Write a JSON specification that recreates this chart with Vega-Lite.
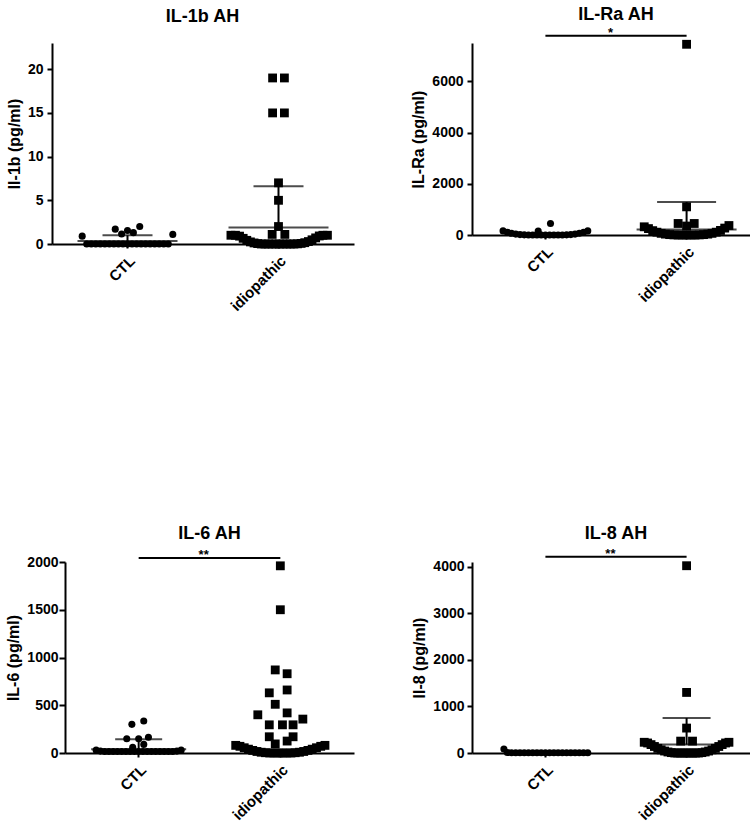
{
  "$schema": "https://vega.github.io/schema/vega-lite/v6.json",
  "background": "white",
  "padding": {"left": 5, "top": 5, "right": 5, "bottom": 1},
  "config": {
    "font": "Liberation Sans",
    "view": {"stroke": null},
    "axis": {"domainColor": "black", "domainWidth": 2, "tickColor": "black", "tickWidth": 2, "tickSize": 5, "labelColor": "black", "labelFont": "Liberation Sans", "labelFontWeight": "bold", "labelFontSize": 14, "titleFont": "Liberation Sans", "titleFontWeight": "bold", "titleFontSize": 16, "titleColor": "black", "grid": false, "labelPadding": 4, "titlePadding": 5},
    "axisX": {"labelAngle": -45, "labelPadding": 5, "tickSize": 4, "labelFontSize": 15},
    "axisY": {"format": "d"},
    "title": {"fontSize": 18, "fontWeight": "bold", "color": "black", "font": "Liberation Sans", "anchor": "middle", "frame": "group"}
  },
  "datasets": {
    "pts": [
      {"p": "p1", "g": "CTL", "j": -1.0, "v": 0.9},
      {"p": "p1", "g": "CTL", "j": -0.27, "v": 1.7},
      {"p": "p1", "g": "CTL", "j": -0.13, "v": 1.15},
      {"p": "p1", "g": "CTL", "j": 0.0, "v": 1.55},
      {"p": "p1", "g": "CTL", "j": 0.13, "v": 1.3},
      {"p": "p1", "g": "CTL", "j": 0.27, "v": 2.0},
      {"p": "p1", "g": "CTL", "j": 1.0, "v": 1.1},
      {"p": "p1", "g": "CTL", "j": -0.9, "v": 0},
      {"p": "p1", "g": "CTL", "j": -0.8, "v": 0},
      {"p": "p1", "g": "CTL", "j": -0.7, "v": 0},
      {"p": "p1", "g": "CTL", "j": -0.6, "v": 0},
      {"p": "p1", "g": "CTL", "j": -0.5, "v": 0},
      {"p": "p1", "g": "CTL", "j": -0.4, "v": 0},
      {"p": "p1", "g": "CTL", "j": -0.3, "v": 0},
      {"p": "p1", "g": "CTL", "j": -0.2, "v": 0},
      {"p": "p1", "g": "CTL", "j": -0.1, "v": 0},
      {"p": "p1", "g": "CTL", "j": 0.0, "v": 0},
      {"p": "p1", "g": "CTL", "j": 0.1, "v": 0},
      {"p": "p1", "g": "CTL", "j": 0.2, "v": 0},
      {"p": "p1", "g": "CTL", "j": 0.3, "v": 0},
      {"p": "p1", "g": "CTL", "j": 0.4, "v": 0},
      {"p": "p1", "g": "CTL", "j": 0.5, "v": 0},
      {"p": "p1", "g": "CTL", "j": 0.6, "v": 0},
      {"p": "p1", "g": "CTL", "j": 0.7, "v": 0},
      {"p": "p1", "g": "CTL", "j": 0.8, "v": 0},
      {"p": "p1", "g": "CTL", "j": 0.9, "v": 0},
      {"p": "p1", "g": "idiopathic", "j": -0.13, "v": 19},
      {"p": "p1", "g": "idiopathic", "j": 0.13, "v": 19},
      {"p": "p1", "g": "idiopathic", "j": -0.13, "v": 15},
      {"p": "p1", "g": "idiopathic", "j": 0.13, "v": 15},
      {"p": "p1", "g": "idiopathic", "j": 0.0, "v": 7.0},
      {"p": "p1", "g": "idiopathic", "j": 0.0, "v": 5.0},
      {"p": "p1", "g": "idiopathic", "j": 0.0, "v": 2.0},
      {"p": "p1", "g": "idiopathic", "j": -0.14, "v": 1.1},
      {"p": "p1", "g": "idiopathic", "j": 0.14, "v": 1.1},
      {"p": "p1", "g": "idiopathic", "j": -1.05, "v": 1.0},
      {"p": "p1", "g": "idiopathic", "j": -0.95, "v": 1.0},
      {"p": "p1", "g": "idiopathic", "j": -0.86, "v": 0.9},
      {"p": "p1", "g": "idiopathic", "j": -0.78, "v": 0.65},
      {"p": "p1", "g": "idiopathic", "j": -0.7, "v": 0.42},
      {"p": "p1", "g": "idiopathic", "j": -0.62, "v": 0.24},
      {"p": "p1", "g": "idiopathic", "j": -0.54, "v": 0.12},
      {"p": "p1", "g": "idiopathic", "j": -0.46, "v": 0.05},
      {"p": "p1", "g": "idiopathic", "j": -0.38, "v": 0},
      {"p": "p1", "g": "idiopathic", "j": -0.3, "v": 0},
      {"p": "p1", "g": "idiopathic", "j": -0.22, "v": 0},
      {"p": "p1", "g": "idiopathic", "j": -0.14, "v": 0},
      {"p": "p1", "g": "idiopathic", "j": -0.06, "v": 0},
      {"p": "p1", "g": "idiopathic", "j": 0.02, "v": 0},
      {"p": "p1", "g": "idiopathic", "j": 0.1, "v": 0},
      {"p": "p1", "g": "idiopathic", "j": 0.18, "v": 0},
      {"p": "p1", "g": "idiopathic", "j": 0.26, "v": 0},
      {"p": "p1", "g": "idiopathic", "j": 0.34, "v": 0},
      {"p": "p1", "g": "idiopathic", "j": 0.42, "v": 0.02},
      {"p": "p1", "g": "idiopathic", "j": 0.5, "v": 0.07},
      {"p": "p1", "g": "idiopathic", "j": 0.58, "v": 0.15},
      {"p": "p1", "g": "idiopathic", "j": 0.66, "v": 0.28},
      {"p": "p1", "g": "idiopathic", "j": 0.74, "v": 0.48},
      {"p": "p1", "g": "idiopathic", "j": 0.82, "v": 0.7},
      {"p": "p1", "g": "idiopathic", "j": 0.9, "v": 0.92},
      {"p": "p1", "g": "idiopathic", "j": 0.98, "v": 1.0},
      {"p": "p1", "g": "idiopathic", "j": 1.08, "v": 1.0},

      {"p": "p2", "g": "CTL", "j": 0.12, "v": 450},
      {"p": "p2", "g": "CTL", "j": -0.17, "v": 150},
      {"p": "p2", "g": "CTL", "j": -1.0, "v": 160},
      {"p": "p2", "g": "CTL", "j": -0.9, "v": 110},
      {"p": "p2", "g": "CTL", "j": -0.8, "v": 65},
      {"p": "p2", "g": "CTL", "j": -0.7, "v": 35},
      {"p": "p2", "g": "CTL", "j": -0.6, "v": 15},
      {"p": "p2", "g": "CTL", "j": -0.5, "v": 5},
      {"p": "p2", "g": "CTL", "j": -0.4, "v": 0},
      {"p": "p2", "g": "CTL", "j": -0.3, "v": 0},
      {"p": "p2", "g": "CTL", "j": -0.2, "v": 0},
      {"p": "p2", "g": "CTL", "j": -0.1, "v": 0},
      {"p": "p2", "g": "CTL", "j": 0.0, "v": 0},
      {"p": "p2", "g": "CTL", "j": 0.1, "v": 0},
      {"p": "p2", "g": "CTL", "j": 0.2, "v": 0},
      {"p": "p2", "g": "CTL", "j": 0.3, "v": 0},
      {"p": "p2", "g": "CTL", "j": 0.4, "v": 0},
      {"p": "p2", "g": "CTL", "j": 0.5, "v": 5},
      {"p": "p2", "g": "CTL", "j": 0.6, "v": 15},
      {"p": "p2", "g": "CTL", "j": 0.7, "v": 35},
      {"p": "p2", "g": "CTL", "j": 0.8, "v": 65},
      {"p": "p2", "g": "CTL", "j": 0.9, "v": 110},
      {"p": "p2", "g": "CTL", "j": 1.0, "v": 160},
      {"p": "p2", "g": "idiopathic", "j": 0.0, "v": 7450},
      {"p": "p2", "g": "idiopathic", "j": 0.0, "v": 1100},
      {"p": "p2", "g": "idiopathic", "j": -0.2, "v": 450},
      {"p": "p2", "g": "idiopathic", "j": 0.18, "v": 450},
      {"p": "p2", "g": "idiopathic", "j": 0.0, "v": 350},
      {"p": "p2", "g": "idiopathic", "j": -1.0, "v": 320},
      {"p": "p2", "g": "idiopathic", "j": -0.9, "v": 250},
      {"p": "p2", "g": "idiopathic", "j": -0.8, "v": 170},
      {"p": "p2", "g": "idiopathic", "j": -0.7, "v": 110},
      {"p": "p2", "g": "idiopathic", "j": -0.6, "v": 65},
      {"p": "p2", "g": "idiopathic", "j": -0.5, "v": 35},
      {"p": "p2", "g": "idiopathic", "j": -0.4, "v": 15},
      {"p": "p2", "g": "idiopathic", "j": -0.3, "v": 5},
      {"p": "p2", "g": "idiopathic", "j": -0.2, "v": 0},
      {"p": "p2", "g": "idiopathic", "j": -0.1, "v": 0},
      {"p": "p2", "g": "idiopathic", "j": 0.0, "v": 0},
      {"p": "p2", "g": "idiopathic", "j": 0.1, "v": 0},
      {"p": "p2", "g": "idiopathic", "j": 0.2, "v": 0},
      {"p": "p2", "g": "idiopathic", "j": 0.3, "v": 5},
      {"p": "p2", "g": "idiopathic", "j": 0.4, "v": 15},
      {"p": "p2", "g": "idiopathic", "j": 0.5, "v": 35},
      {"p": "p2", "g": "idiopathic", "j": 0.6, "v": 65},
      {"p": "p2", "g": "idiopathic", "j": 0.7, "v": 110},
      {"p": "p2", "g": "idiopathic", "j": 0.8, "v": 180},
      {"p": "p2", "g": "idiopathic", "j": 0.9, "v": 270},
      {"p": "p2", "g": "idiopathic", "j": 1.0, "v": 370},

      {"p": "p3", "g": "CTL", "j": -0.16, "v": 300},
      {"p": "p3", "g": "CTL", "j": 0.12, "v": 335},
      {"p": "p3", "g": "CTL", "j": -0.28, "v": 150},
      {"p": "p3", "g": "CTL", "j": 0.0, "v": 150},
      {"p": "p3", "g": "CTL", "j": 0.23, "v": 165},
      {"p": "p3", "g": "CTL", "j": -0.14, "v": 60},
      {"p": "p3", "g": "CTL", "j": 0.12, "v": 90},
      {"p": "p3", "g": "CTL", "j": -1.0, "v": 30},
      {"p": "p3", "g": "CTL", "j": -0.9, "v": 20},
      {"p": "p3", "g": "CTL", "j": -0.8, "v": 15},
      {"p": "p3", "g": "CTL", "j": -0.7, "v": 15},
      {"p": "p3", "g": "CTL", "j": -0.6, "v": 15},
      {"p": "p3", "g": "CTL", "j": -0.5, "v": 15},
      {"p": "p3", "g": "CTL", "j": -0.4, "v": 15},
      {"p": "p3", "g": "CTL", "j": -0.3, "v": 15},
      {"p": "p3", "g": "CTL", "j": -0.2, "v": 15},
      {"p": "p3", "g": "CTL", "j": -0.1, "v": 15},
      {"p": "p3", "g": "CTL", "j": 0.0, "v": 15},
      {"p": "p3", "g": "CTL", "j": 0.1, "v": 15},
      {"p": "p3", "g": "CTL", "j": 0.2, "v": 15},
      {"p": "p3", "g": "CTL", "j": 0.3, "v": 15},
      {"p": "p3", "g": "CTL", "j": 0.4, "v": 15},
      {"p": "p3", "g": "CTL", "j": 0.5, "v": 15},
      {"p": "p3", "g": "CTL", "j": 0.6, "v": 15},
      {"p": "p3", "g": "CTL", "j": 0.7, "v": 15},
      {"p": "p3", "g": "CTL", "j": 0.8, "v": 15},
      {"p": "p3", "g": "CTL", "j": 0.9, "v": 20},
      {"p": "p3", "g": "CTL", "j": 1.0, "v": 30},
      {"p": "p3", "g": "idiopathic", "j": 0.0, "v": 1960},
      {"p": "p3", "g": "idiopathic", "j": 0.0, "v": 1500},
      {"p": "p3", "g": "idiopathic", "j": -0.12, "v": 870},
      {"p": "p3", "g": "idiopathic", "j": 0.16, "v": 830},
      {"p": "p3", "g": "idiopathic", "j": -0.26, "v": 630},
      {"p": "p3", "g": "idiopathic", "j": 0.16, "v": 660},
      {"p": "p3", "g": "idiopathic", "j": -0.12, "v": 510},
      {"p": "p3", "g": "idiopathic", "j": 0.16, "v": 420},
      {"p": "p3", "g": "idiopathic", "j": -0.53, "v": 400},
      {"p": "p3", "g": "idiopathic", "j": 0.53, "v": 355},
      {"p": "p3", "g": "idiopathic", "j": -0.26, "v": 295},
      {"p": "p3", "g": "idiopathic", "j": 0.05, "v": 295},
      {"p": "p3", "g": "idiopathic", "j": 0.3, "v": 295},
      {"p": "p3", "g": "idiopathic", "j": -0.26, "v": 170},
      {"p": "p3", "g": "idiopathic", "j": 0.3, "v": 170},
      {"p": "p3", "g": "idiopathic", "j": -0.12, "v": 95},
      {"p": "p3", "g": "idiopathic", "j": 0.16, "v": 125},
      {"p": "p3", "g": "idiopathic", "j": -1.05, "v": 80},
      {"p": "p3", "g": "idiopathic", "j": -0.95, "v": 70},
      {"p": "p3", "g": "idiopathic", "j": -0.85, "v": 55},
      {"p": "p3", "g": "idiopathic", "j": -0.75, "v": 40},
      {"p": "p3", "g": "idiopathic", "j": -0.65, "v": 27},
      {"p": "p3", "g": "idiopathic", "j": -0.55, "v": 16},
      {"p": "p3", "g": "idiopathic", "j": -0.45, "v": 8},
      {"p": "p3", "g": "idiopathic", "j": -0.35, "v": 3},
      {"p": "p3", "g": "idiopathic", "j": -0.25, "v": 0},
      {"p": "p3", "g": "idiopathic", "j": -0.15, "v": 0},
      {"p": "p3", "g": "idiopathic", "j": -0.05, "v": 0},
      {"p": "p3", "g": "idiopathic", "j": 0.05, "v": 0},
      {"p": "p3", "g": "idiopathic", "j": 0.15, "v": 0},
      {"p": "p3", "g": "idiopathic", "j": 0.25, "v": 0},
      {"p": "p3", "g": "idiopathic", "j": 0.35, "v": 3},
      {"p": "p3", "g": "idiopathic", "j": 0.45, "v": 8},
      {"p": "p3", "g": "idiopathic", "j": 0.55, "v": 16},
      {"p": "p3", "g": "idiopathic", "j": 0.65, "v": 27},
      {"p": "p3", "g": "idiopathic", "j": 0.75, "v": 40},
      {"p": "p3", "g": "idiopathic", "j": 0.85, "v": 55},
      {"p": "p3", "g": "idiopathic", "j": 0.95, "v": 70},
      {"p": "p3", "g": "idiopathic", "j": 1.05, "v": 80},

      {"p": "p4", "g": "CTL", "j": -0.98, "v": 85},
      {"p": "p4", "g": "CTL", "j": -0.9, "v": 10},
      {"p": "p4", "g": "CTL", "j": -0.8, "v": 5},
      {"p": "p4", "g": "CTL", "j": -0.7, "v": 5},
      {"p": "p4", "g": "CTL", "j": -0.6, "v": 5},
      {"p": "p4", "g": "CTL", "j": -0.5, "v": 5},
      {"p": "p4", "g": "CTL", "j": -0.4, "v": 5},
      {"p": "p4", "g": "CTL", "j": -0.3, "v": 5},
      {"p": "p4", "g": "CTL", "j": -0.2, "v": 5},
      {"p": "p4", "g": "CTL", "j": -0.1, "v": 5},
      {"p": "p4", "g": "CTL", "j": 0.0, "v": 5},
      {"p": "p4", "g": "CTL", "j": 0.1, "v": 5},
      {"p": "p4", "g": "CTL", "j": 0.2, "v": 5},
      {"p": "p4", "g": "CTL", "j": 0.3, "v": 5},
      {"p": "p4", "g": "CTL", "j": 0.4, "v": 5},
      {"p": "p4", "g": "CTL", "j": 0.5, "v": 5},
      {"p": "p4", "g": "CTL", "j": 0.6, "v": 5},
      {"p": "p4", "g": "CTL", "j": 0.7, "v": 5},
      {"p": "p4", "g": "CTL", "j": 0.8, "v": 5},
      {"p": "p4", "g": "CTL", "j": 0.9, "v": 5},
      {"p": "p4", "g": "CTL", "j": 1.0, "v": 5},
      {"p": "p4", "g": "idiopathic", "j": 0.0, "v": 4020},
      {"p": "p4", "g": "idiopathic", "j": 0.0, "v": 1300},
      {"p": "p4", "g": "idiopathic", "j": 0.0, "v": 535},
      {"p": "p4", "g": "idiopathic", "j": -0.14, "v": 255},
      {"p": "p4", "g": "idiopathic", "j": 0.14, "v": 255},
      {"p": "p4", "g": "idiopathic", "j": -1.0, "v": 230},
      {"p": "p4", "g": "idiopathic", "j": -0.92, "v": 215},
      {"p": "p4", "g": "idiopathic", "j": -0.84, "v": 180},
      {"p": "p4", "g": "idiopathic", "j": -0.76, "v": 140},
      {"p": "p4", "g": "idiopathic", "j": -0.68, "v": 100},
      {"p": "p4", "g": "idiopathic", "j": -0.6, "v": 68},
      {"p": "p4", "g": "idiopathic", "j": -0.52, "v": 42},
      {"p": "p4", "g": "idiopathic", "j": -0.44, "v": 22},
      {"p": "p4", "g": "idiopathic", "j": -0.36, "v": 8},
      {"p": "p4", "g": "idiopathic", "j": -0.28, "v": 0},
      {"p": "p4", "g": "idiopathic", "j": -0.21, "v": 0},
      {"p": "p4", "g": "idiopathic", "j": -0.14, "v": 0},
      {"p": "p4", "g": "idiopathic", "j": -0.07, "v": 0},
      {"p": "p4", "g": "idiopathic", "j": 0.0, "v": 0},
      {"p": "p4", "g": "idiopathic", "j": 0.07, "v": 0},
      {"p": "p4", "g": "idiopathic", "j": 0.14, "v": 0},
      {"p": "p4", "g": "idiopathic", "j": 0.21, "v": 0},
      {"p": "p4", "g": "idiopathic", "j": 0.28, "v": 0},
      {"p": "p4", "g": "idiopathic", "j": 0.36, "v": 8},
      {"p": "p4", "g": "idiopathic", "j": 0.44, "v": 22},
      {"p": "p4", "g": "idiopathic", "j": 0.52, "v": 42},
      {"p": "p4", "g": "idiopathic", "j": 0.6, "v": 68},
      {"p": "p4", "g": "idiopathic", "j": 0.68, "v": 100},
      {"p": "p4", "g": "idiopathic", "j": 0.76, "v": 140},
      {"p": "p4", "g": "idiopathic", "j": 0.84, "v": 180},
      {"p": "p4", "g": "idiopathic", "j": 0.92, "v": 215},
      {"p": "p4", "g": "idiopathic", "j": 1.0, "v": 230}
    ],
    "bars": [
      {"p": "p1", "g": "CTL", "mean": 0.35, "upper": 1.0},
      {"p": "p1", "g": "idiopathic", "mean": 1.9, "upper": 6.6},
      {"p": "p2", "g": "idiopathic", "mean": 210, "upper": 1290},
      {"p": "p3", "g": "CTL", "mean": 40, "upper": 145},
      {"p": "p4", "g": "idiopathic", "mean": 180, "upper": 750}
    ],
    "sig": [
      {"p": "p2", "y": 7780, "label": "*"},
      {"p": "p3", "y": 2042, "label": "**"},
      {"p": "p4", "y": 4214, "label": "**"}
    ]
  },
  "columns": 2,
  "align": {"row": "each", "column": "each"},
  "bounds": "full",
  "spacing": {"row": 210, "column": 43},
  "resolve": {"scale": {"x": "independent", "y": "independent", "xOffset": "independent", "shape": "independent", "size": "independent"}},
  "concat": [
    {
      "width": 289, "height": 201,
      "title": {"text": "IL-1b AH", "offset": 17, "dx": -7},
      "layer": [
        {
          "data": {"name": "pts"},
          "transform": [{"filter": "datum.p === 'p1'"}],
          "mark": {"type": "point", "filled": true, "opacity": 1, "color": "black"},
          "encoding": {
            "x": {"field": "g", "type": "nominal", "title": null, "scale": {"domain": ["CTL", "idiopathic"], "paddingInner": 0.4, "paddingOuter": 0.2, "range": [-13, 289]}},
            "xOffset": {"field": "j", "type": "quantitative", "scale": {"domain": [-1, 1]}},
            "y": {"field": "v", "type": "quantitative", "title": "Il-1b (pg/ml)", "scale": {"domain": [0, 23], "nice": false}, "axis": {"values": [0, 5, 10, 15, 20], "offset": 13}},
            "shape": {"field": "g", "type": "nominal", "scale": {"domain": ["CTL", "idiopathic"], "range": ["circle", "square"]}, "legend": null},
            "size": {"field": "g", "type": "nominal", "scale": {"domain": ["CTL", "idiopathic"], "range": [50, 78]}, "legend": null}
          }
        },
        {
          "data": {"name": "bars"},
          "transform": [{"filter": "datum.p === 'p1'"}],
          "mark": {"type": "tick", "size": 100, "thickness": 2, "color": "black"},
          "encoding": {"x": {"field": "g", "type": "nominal", "title": null}, "y": {"field": "mean", "type": "quantitative", "title": "Il-1b (pg/ml)"}}
        },
        {
          "data": {"name": "bars"},
          "transform": [{"filter": "datum.p === 'p1'"}],
          "mark": {"type": "tick", "size": 50, "thickness": 2, "color": "black"},
          "encoding": {"x": {"field": "g", "type": "nominal", "title": null}, "y": {"field": "upper", "type": "quantitative", "title": "Il-1b (pg/ml)"}}
        },
        {
          "data": {"name": "bars"},
          "transform": [{"filter": "datum.p === 'p1'"}],
          "mark": {"type": "rule", "strokeWidth": 2, "color": "black"},
          "encoding": {"x": {"field": "g", "type": "nominal", "title": null}, "y": {"field": "mean", "type": "quantitative", "title": "Il-1b (pg/ml)"}, "y2": {"field": "upper"}}
        }
      ]
    },
    {
      "width": 288, "height": 192,
      "title": {"text": "IL-Ra AH", "offset": 3},
      "layer": [
        {
          "data": {"name": "pts"},
          "transform": [{"filter": "datum.p === 'p2'"}],
          "mark": {"type": "point", "filled": true, "opacity": 1, "color": "black"},
          "encoding": {
            "x": {"field": "g", "type": "nominal", "title": null, "scale": {"domain": ["CTL", "idiopathic"], "paddingInner": 0.4, "paddingOuter": 0.22}},
            "xOffset": {"field": "j", "type": "quantitative", "scale": {"domain": [-1, 1]}},
            "y": {"field": "v", "type": "quantitative", "title": "IL-Ra (pg/ml)", "scale": {"domain": [0, 7500], "nice": false}, "axis": {"values": [0, 2000, 4000, 6000]}},
            "shape": {"field": "g", "type": "nominal", "scale": {"domain": ["CTL", "idiopathic"], "range": ["circle", "square"]}, "legend": null},
            "size": {"field": "g", "type": "nominal", "scale": {"domain": ["CTL", "idiopathic"], "range": [50, 78]}, "legend": null}
          }
        },
        {
          "data": {"name": "bars"},
          "transform": [{"filter": "datum.p === 'p2'"}],
          "mark": {"type": "tick", "size": 100, "thickness": 2, "color": "black"},
          "encoding": {"x": {"field": "g", "type": "nominal", "title": null}, "y": {"field": "mean", "type": "quantitative", "title": "IL-Ra (pg/ml)"}}
        },
        {
          "data": {"name": "bars"},
          "transform": [{"filter": "datum.p === 'p2'"}],
          "mark": {"type": "tick", "size": 59, "thickness": 2, "color": "black"},
          "encoding": {"x": {"field": "g", "type": "nominal", "title": null}, "y": {"field": "upper", "type": "quantitative", "title": "IL-Ra (pg/ml)"}}
        },
        {
          "data": {"name": "bars"},
          "transform": [{"filter": "datum.p === 'p2'"}],
          "mark": {"type": "rule", "strokeWidth": 2, "color": "black"},
          "encoding": {"x": {"field": "g", "type": "nominal", "title": null}, "y": {"field": "mean", "type": "quantitative", "title": "IL-Ra (pg/ml)"}, "y2": {"field": "upper"}}
        },
        {
          "data": {"name": "sig"},
          "transform": [{"filter": "datum.p === 'p2'"}],
          "mark": {"type": "rule", "strokeWidth": 2, "color": "black", "clip": false},
          "encoding": {"x": {"datum": "CTL", "type": "nominal", "title": null}, "x2": {"datum": "idiopathic"}, "y": {"field": "y", "type": "quantitative", "title": "IL-Ra (pg/ml)"}}
        },
        {
          "data": {"name": "sig"},
          "transform": [{"filter": "datum.p === 'p2'"}],
          "mark": {"type": "text", "fontSize": 13, "fontWeight": "bold", "color": "black", "baseline": "alphabetic", "align": "center", "dx": 65, "dy": 1, "clip": false},
          "encoding": {"x": {"datum": "CTL", "type": "nominal", "title": null}, "y": {"field": "y", "type": "quantitative", "title": "IL-Ra (pg/ml)"}, "text": {"field": "label"}}
        }
      ]
    },
    {
      "width": 289, "height": 191,
      "title": {"text": "IL-6 AH", "offset": 6},
      "layer": [
        {
          "data": {"name": "pts"},
          "transform": [{"filter": "datum.p === 'p3'"}],
          "mark": {"type": "point", "filled": true, "opacity": 1, "color": "black"},
          "encoding": {
            "x": {"field": "g", "type": "nominal", "title": null, "scale": {"domain": ["CTL", "idiopathic"], "paddingInner": 0.4, "paddingOuter": 0.22}},
            "xOffset": {"field": "j", "type": "quantitative", "scale": {"domain": [-1, 1]}},
            "y": {"field": "v", "type": "quantitative", "title": "IL-6 (pg/ml)", "scale": {"domain": [0, 2000], "nice": false}, "axis": {"values": [0, 500, 1000, 1500, 2000], "labelPadding": 1, "tickSize": 6}},
            "shape": {"field": "g", "type": "nominal", "scale": {"domain": ["CTL", "idiopathic"], "range": ["circle", "square"]}, "legend": null},
            "size": {"field": "g", "type": "nominal", "scale": {"domain": ["CTL", "idiopathic"], "range": [50, 78]}, "legend": null}
          }
        },
        {
          "data": {"name": "bars"},
          "transform": [{"filter": "datum.p === 'p3'"}],
          "mark": {"type": "tick", "size": 95, "thickness": 2, "color": "black"},
          "encoding": {"x": {"field": "g", "type": "nominal", "title": null}, "y": {"field": "mean", "type": "quantitative", "title": "IL-6 (pg/ml)"}}
        },
        {
          "data": {"name": "bars"},
          "transform": [{"filter": "datum.p === 'p3'"}],
          "mark": {"type": "tick", "size": 47, "thickness": 2, "color": "black"},
          "encoding": {"x": {"field": "g", "type": "nominal", "title": null}, "y": {"field": "upper", "type": "quantitative", "title": "IL-6 (pg/ml)"}}
        },
        {
          "data": {"name": "bars"},
          "transform": [{"filter": "datum.p === 'p3'"}],
          "mark": {"type": "rule", "strokeWidth": 2, "color": "black"},
          "encoding": {"x": {"field": "g", "type": "nominal", "title": null}, "y": {"field": "mean", "type": "quantitative", "title": "IL-6 (pg/ml)"}, "y2": {"field": "upper"}}
        },
        {
          "data": {"name": "sig"},
          "transform": [{"filter": "datum.p === 'p3'"}],
          "mark": {"type": "rule", "strokeWidth": 2, "color": "black", "clip": false},
          "encoding": {"x": {"datum": "CTL", "type": "nominal", "title": null}, "x2": {"datum": "idiopathic"}, "y": {"field": "y", "type": "quantitative", "title": "IL-6 (pg/ml)"}}
        },
        {
          "data": {"name": "sig"},
          "transform": [{"filter": "datum.p === 'p3'"}],
          "mark": {"type": "text", "fontSize": 13, "fontWeight": "bold", "color": "black", "baseline": "alphabetic", "align": "center", "dx": 65, "dy": 1, "clip": false},
          "encoding": {"x": {"datum": "CTL", "type": "nominal", "title": null}, "y": {"field": "y", "type": "quantitative", "title": "IL-6 (pg/ml)"}, "text": {"field": "label"}}
        }
      ]
    },
    {
      "width": 288, "height": 191,
      "title": {"text": "IL-8 AH", "offset": 5},
      "layer": [
        {
          "data": {"name": "pts"},
          "transform": [{"filter": "datum.p === 'p4'"}],
          "mark": {"type": "point", "filled": true, "opacity": 1, "color": "black"},
          "encoding": {
            "x": {"field": "g", "type": "nominal", "title": null, "scale": {"domain": ["CTL", "idiopathic"], "paddingInner": 0.4, "paddingOuter": 0.22}},
            "xOffset": {"field": "j", "type": "quantitative", "scale": {"domain": [-1, 1]}},
            "y": {"field": "v", "type": "quantitative", "title": "Il-8 (pg/ml)", "scale": {"domain": [0, 4100], "nice": false}, "axis": {"values": [0, 1000, 2000, 3000, 4000], "labelPadding": 3}},
            "shape": {"field": "g", "type": "nominal", "scale": {"domain": ["CTL", "idiopathic"], "range": ["circle", "square"]}, "legend": null},
            "size": {"field": "g", "type": "nominal", "scale": {"domain": ["CTL", "idiopathic"], "range": [50, 78]}, "legend": null}
          }
        },
        {
          "data": {"name": "bars"},
          "transform": [{"filter": "datum.p === 'p4'"}],
          "mark": {"type": "tick", "size": 70, "thickness": 2, "color": "black"},
          "encoding": {"x": {"field": "g", "type": "nominal", "title": null}, "y": {"field": "mean", "type": "quantitative", "title": "Il-8 (pg/ml)"}}
        },
        {
          "data": {"name": "bars"},
          "transform": [{"filter": "datum.p === 'p4'"}],
          "mark": {"type": "tick", "size": 48, "thickness": 2, "color": "black"},
          "encoding": {"x": {"field": "g", "type": "nominal", "title": null}, "y": {"field": "upper", "type": "quantitative", "title": "Il-8 (pg/ml)"}}
        },
        {
          "data": {"name": "bars"},
          "transform": [{"filter": "datum.p === 'p4'"}],
          "mark": {"type": "rule", "strokeWidth": 2, "color": "black"},
          "encoding": {"x": {"field": "g", "type": "nominal", "title": null}, "y": {"field": "mean", "type": "quantitative", "title": "Il-8 (pg/ml)"}, "y2": {"field": "upper"}}
        },
        {
          "data": {"name": "sig"},
          "transform": [{"filter": "datum.p === 'p4'"}],
          "mark": {"type": "rule", "strokeWidth": 2, "color": "black", "clip": false},
          "encoding": {"x": {"datum": "CTL", "type": "nominal", "title": null}, "x2": {"datum": "idiopathic"}, "y": {"field": "y", "type": "quantitative", "title": "Il-8 (pg/ml)"}}
        },
        {
          "data": {"name": "sig"},
          "transform": [{"filter": "datum.p === 'p4'"}],
          "mark": {"type": "text", "fontSize": 13, "fontWeight": "bold", "color": "black", "baseline": "alphabetic", "align": "center", "dx": 65, "dy": 1, "clip": false},
          "encoding": {"x": {"datum": "CTL", "type": "nominal", "title": null}, "y": {"field": "y", "type": "quantitative", "title": "Il-8 (pg/ml)"}, "text": {"field": "label"}}
        }
      ]
    }
  ]
}
